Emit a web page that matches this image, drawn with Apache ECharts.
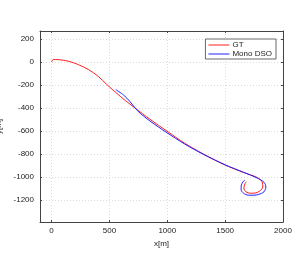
<!DOCTYPE html>
<html><head><meta charset="utf-8">
<script src="https://cdn.jsdelivr.net/npm/echarts@6/dist/echarts.min.js"></script>
<style>html,body{margin:0;padding:0;background:#fff}#c{width:305px;height:273px}</style>
</head><body><div id="c"></div>
<script>
const gtX = [0, 14, 57, 144, 231, 317, 404, 477, 550, 636, 722, 850, 997, 1150, 1314, 1500, 1660, 1777, 1821, 1825, 1800, 1760, 1719, 1680, 1662, 1670, 1685];
const gtY = [0, 22, 21, 8, -22, -64, -125, -195, -260, -333, -400, -497, -600, -705, -800, -895, -960, -1003, -1044, -1087, -1120, -1138, -1140, -1128, -1095, -1060, -1040];
const dsoX = [555, 621, 679, 722, 766, 850, 997, 1150, 1314, 1500, 1660, 1777, 1835, 1852, 1835, 1790, 1748, 1700, 1660, 1638, 1640, 1655, 1672];
const dsoY = [-240, -285, -345, -400, -445, -512, -614, -712, -803, -893, -958, -1008, -1044, -1087, -1128, -1150, -1157, -1157, -1140, -1110, -1070, -1040, -1025];
const seriesNames = ['GT', 'Mono DSO'];
const xName = 'x[m]', yName = 'y[m]';

const font = 'Liberation Sans, Arial, sans-serif';
const axisCol = '#444';
const chart = echarts.init(document.getElementById('c'), null, {renderer: 'canvas'});
const xBase = {type: 'value', min: -100, max: 2000, minInterval: 500, maxInterval: 500};
const yBase = {type: 'value', min: -1390, max: 270, minInterval: 200, maxInterval: 200};
const lineStyle = {color: axisCol, width: 1};
chart.setOption({
  animation: false,
  backgroundColor: '#fff',
  grid: {left: 40, top: 31, width: 243, height: 191, containLabel: false, outerBoundsMode: 'none'},
  legend: {
    orient: 'vertical', right: 29, top: 39, padding: [2, 4, 1, 3], itemGap: 1,
    itemWidth: 21, itemHeight: 1, icon: 'rect', backgroundColor: '#fff', borderColor: axisCol, borderWidth: 0.8,
    textStyle: {fontSize: 8, fontFamily: font, color: '#222', padding: [0, 0, 0, -2]},
    data: seriesNames
  },
  xAxis: [
    Object.assign({}, xBase, {
      position: 'bottom', name: xName, nameLocation: 'middle', nameGap: 15,
      nameTextStyle: {fontSize: 8, fontFamily: font, color: '#222'},
      axisLine: {show: true, onZero: false, lineStyle}, axisTick: {show: true, inside: true, length: 2, lineStyle},
      axisLabel: {fontSize: 8, fontFamily: font, color: '#222', margin: 5,
        formatter: v => (v % 500 === 0 ? String(v) : '')},
      splitLine: {show: true, lineStyle: {color: '#ccc', type: [1, 2], width: 0.7}}
    }),
    Object.assign({}, xBase, {
      position: 'top', axisLine: {show: true, onZero: false, lineStyle},
      axisTick: {show: true, inside: true, length: 2, lineStyle},
      axisLabel: {show: false}, splitLine: {show: false}
    })
  ],
  yAxis: [
    Object.assign({}, yBase, {
      position: 'left', name: yName, nameLocation: 'middle', nameGap: 27,
      nameTextStyle: {fontSize: 8, fontFamily: font, color: '#222'},
      axisLine: {show: true, onZero: false, lineStyle}, axisTick: {show: true, inside: true, length: 2, lineStyle},
      axisLabel: {fontSize: 8, fontFamily: font, color: '#222', margin: 6,
        formatter: v => (v % 200 === 0 ? String(v) : '')},
      splitLine: {show: true, lineStyle: {color: '#ccc', type: [1, 2], width: 0.7}}
    }),
    Object.assign({}, yBase, {
      position: 'right', axisLine: {show: true, onZero: false, lineStyle},
      axisTick: {show: true, inside: true, length: 2, lineStyle},
      axisLabel: {show: false}, splitLine: {show: false}
    })
  ],
  series: [
    {name: seriesNames[0], type: 'line', symbol: 'none', showSymbol: false, smooth: 0.3,
     lineStyle: {color: '#ff2020', width: 1}, itemStyle: {color: '#ff2020'},
     data: gtX.map((x, i) => [x, gtY[i]])},
    {name: seriesNames[1], type: 'line', symbol: 'none', showSymbol: false, smooth: 0.3,
     lineStyle: {color: '#2020ff', width: 1}, itemStyle: {color: '#2020ff'},
     data: dsoX.map((x, i) => [x, dsoY[i]])}
  ]
});
</script></body></html>
